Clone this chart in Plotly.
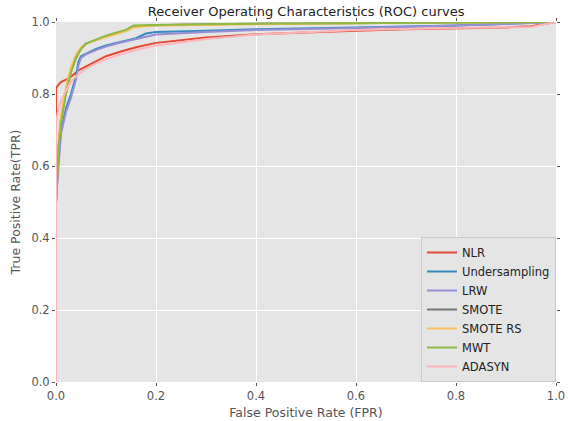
import plotly.graph_objects as go

names = ["NLR", "Undersampling", "LRW", "SMOTE", "SMOTE RS", "MWT", "ADASYN"]
colors = ["#E24A33", "#348ABD", "#988ED5", "#777777", "#FBC15E", "#8EBA42", "#FFB5B8"]

fpr_nlr = [0, 0, 0.005, 0.01, 0.02, 0.03, 0.045, 0.06, 0.08, 0.1, 0.13, 0.16, 0.2, 0.25, 0.3, 0.4, 0.5, 0.6, 0.7, 0.8, 0.9, 0.95, 1.0]
tpr_nlr = [0, 0.816, 0.826, 0.833, 0.84, 0.848, 0.866, 0.877, 0.892, 0.905, 0.918, 0.93, 0.942, 0.95, 0.957, 0.966, 0.972, 0.976, 0.98, 0.982, 0.985, 0.988, 1.0]

fpr_under = [0, 0, 0.005, 0.01, 0.02, 0.03, 0.04, 0.045, 0.05, 0.06, 0.08, 0.1, 0.13, 0.16, 0.18, 0.2, 0.3, 0.4, 0.6, 0.8, 1.0]
tpr_under = [0, 0.5, 0.62, 0.7, 0.76, 0.8, 0.85, 0.89, 0.905, 0.912, 0.925, 0.935, 0.945, 0.955, 0.968, 0.972, 0.976, 0.98, 0.985, 0.99, 1.0]

fpr_lrw = [0, 0, 0.005, 0.01, 0.02, 0.03, 0.04, 0.045, 0.05, 0.06, 0.08, 0.1, 0.13, 0.16, 0.18, 0.2, 0.3, 0.4, 0.6, 0.8, 1.0]
tpr_lrw = [0, 0.5, 0.6, 0.69, 0.75, 0.79, 0.84, 0.88, 0.9, 0.91, 0.922, 0.932, 0.943, 0.952, 0.96, 0.965, 0.972, 0.978, 0.983, 0.99, 1.0]

fpr_smote = [0, 0, 0.005, 0.01, 0.02, 0.03, 0.04, 0.05, 0.06, 0.08, 0.1, 0.12, 0.14, 0.155, 0.2, 0.3, 0.5, 0.7, 1.0]
tpr_smote = [0, 0.5, 0.65, 0.73, 0.81, 0.865, 0.9, 0.927, 0.94, 0.951, 0.96, 0.968, 0.977, 0.988, 0.991, 0.994, 0.996, 0.998, 1.0]

fpr_smoters = [0, 0, 0.005, 0.01, 0.02, 0.03, 0.04, 0.05, 0.06, 0.08, 0.1, 0.12, 0.14, 0.155, 0.2, 0.3, 0.5, 0.7, 1.0]
tpr_smoters = [0, 0.5, 0.66, 0.74, 0.82, 0.875, 0.91, 0.93, 0.94, 0.95, 0.958, 0.966, 0.975, 0.985, 0.99, 0.992, 0.995, 0.998, 1.0]

fpr_mwt = [0, 0, 0.005, 0.01, 0.02, 0.03, 0.04, 0.05, 0.06, 0.08, 0.1, 0.12, 0.14, 0.155, 0.2, 0.3, 0.5, 0.7, 1.0]
tpr_mwt = [0, 0.5, 0.65, 0.72, 0.8, 0.86, 0.9, 0.925, 0.94, 0.952, 0.962, 0.97, 0.978, 0.99, 0.992, 0.994, 0.996, 0.998, 1.0]

fpr_adasyn = [0, 0, 0.005, 0.01, 0.02, 0.03, 0.045, 0.06, 0.08, 0.1, 0.13, 0.16, 0.2, 0.25, 0.3, 0.4, 0.5, 0.6, 0.8, 0.95, 1.0]
tpr_adasyn = [0, 0.72, 0.76, 0.78, 0.81, 0.835, 0.855, 0.87, 0.885, 0.897, 0.91, 0.922, 0.935, 0.945, 0.953, 0.965, 0.972, 0.978, 0.983, 0.986, 1.0]

series = [
    (fpr_nlr, tpr_nlr),
    (fpr_under, tpr_under),
    (fpr_lrw, tpr_lrw),
    (fpr_smote, tpr_smote),
    (fpr_smoters, tpr_smoters),
    (fpr_mwt, tpr_mwt),
    (fpr_adasyn, tpr_adasyn),
]

fig = go.Figure()
for name, color, (fx, ty) in zip(names, colors, series):
    fig.add_trace(go.Scatter(x=fx, y=ty, mode="lines", name=name,
                             line=dict(color=color, width=2)))

tickvals = [0, 0.2, 0.4, 0.6, 0.8, 1.0]
ticktext = ["0.0", "0.2", "0.4", "0.6", "0.8", "1.0"]

axis_common = dict(
    tickvals=tickvals, ticktext=ticktext,
    showgrid=True, gridcolor="white", gridwidth=1.3,
    zeroline=False, showline=False, automargin=False,
    ticks="outside", ticklen=3, tickcolor="#555555", mirror="ticks",
    tickfont=dict(family="DejaVu Sans", size=11.5, color="#555555"),
)

fig.update_layout(
    width=568, height=421,
    margin=dict(l=56, r=12, t=22, b=39),
    paper_bgcolor="white", plot_bgcolor="#E5E5E5",
    font=dict(family="DejaVu Sans", color="#555555"),
    title=dict(text="Receiver Operating Characteristics (ROC) curves",
               x=0.539, xanchor="center", y=0.972, yanchor="middle",
               font=dict(family="DejaVu Sans", size=13, color="#222222")),
    xaxis=dict(range=[0, 1], title=dict(text="False Positive Rate (FPR)", standoff=6,
               font=dict(size=12.5, color="#555555")), **axis_common),
    yaxis=dict(range=[0, 1], title=dict(text="True Positive Rate(TPR)", standoff=8,
               font=dict(size=12.5, color="#555555")), **axis_common),
    legend=dict(x=1, xanchor="right", y=0, yanchor="bottom",
                bgcolor="#E5E5E5", bordercolor="#CCCCCC", borderwidth=1,
                font=dict(family="DejaVu Sans", size=11.5, color="#222222"),
                tracegroupgap=0, itemwidth=30),
    showlegend=True,
)

fig.write_html("out.html")
